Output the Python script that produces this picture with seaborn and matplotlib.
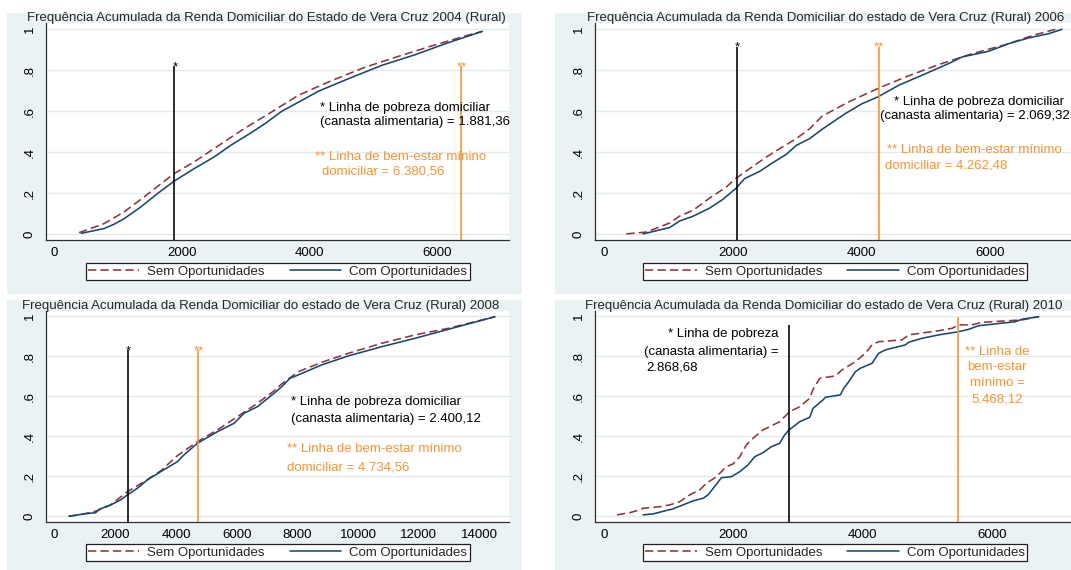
import matplotlib
matplotlib.use("Agg")
import matplotlib.pyplot as plt
from matplotlib.patches import Rectangle
from matplotlib.lines import Line2D
import pandas as pd
import seaborn as sns

# ---------------------------------------------------------------- data
anos = [2004, 2006, 2008, 2010]
titulos = [
    "Frequência Acumulada da Renda Domiciliar do Estado de Vera Cruz 2004 (Rural)",
    "Frequência Acumulada da Renda Domiciliar do estado de Vera Cruz (Rural) 2006",
    "Frequência Acumulada da Renda Domiciliar do estado de Vera Cruz (Rural) 2008",
    "Frequência Acumulada da Renda Domiciliar do estado de Vera Cruz (Rural) 2010",
]
grupos = ["Sem Oportunidades", "Com Oportunidades"]

renda_sem_2004 = [385, 777, 1091, 1405, 1876, 2190, 2504, 2975, 3305, 3828, 4351,
                  4875, 5398, 5921, 6444, 6716]
freq_sem_2004 = [0.008, 0.052, 0.109, 0.182, 0.296, 0.353, 0.418, 0.515, 0.577, 0.678,
                 0.750, 0.815, 0.868, 0.919, 0.967, 0.990]
renda_com_2004 = [421, 777, 934, 1091, 1353, 1614, 1876, 2190, 2504, 2766, 3080, 3305,
                  3566, 3933, 4142, 4613, 5136, 5659, 6183, 6716]
freq_com_2004 = [0.005, 0.028, 0.049, 0.076, 0.133, 0.198, 0.259, 0.320, 0.377, 0.434,
                 0.494, 0.540, 0.600, 0.662, 0.698, 0.759, 0.824, 0.876, 0.935, 0.990]

renda_sem_2006 = [347, 657, 1020, 1175, 1382, 1641, 1900, 2045, 2210, 2521, 2728, 2987,
                  3194, 3385, 3799, 4250, 4679, 5197, 5714, 6232, 6698, 7008]
freq_sem_2006 = [0.002, 0.011, 0.055, 0.089, 0.117, 0.177, 0.231, 0.272, 0.309, 0.377,
                 0.418, 0.467, 0.515, 0.576, 0.646, 0.711, 0.767, 0.828, 0.881, 0.925,
                 0.974, 1.0]
renda_com_2006 = [606, 1020, 1175, 1382, 1641, 1848, 2045, 2184, 2417, 2624, 2831, 2987,
                  3194, 3385, 3747, 4006, 4250, 4576, 4938, 5352, 5559, 5973, 6284,
                  6594, 6905, 7112]
freq_com_2006 = [0.002, 0.033, 0.065, 0.088, 0.128, 0.171, 0.223, 0.272, 0.307, 0.350,
                 0.390, 0.434, 0.467, 0.512, 0.589, 0.637, 0.670, 0.727, 0.776, 0.833,
                 0.865, 0.893, 0.930, 0.958, 0.979, 1.0]

renda_sem_2008 = [472, 967, 1406, 1845, 2394, 2943, 3493, 4042, 4701, 5360, 6019, 6678,
                  7227, 7480, 8029, 8798, 9677, 10775, 11873, 12971, 14509]
freq_sem_2008 = [0.0, 0.012, 0.028, 0.057, 0.123, 0.173, 0.227, 0.303, 0.373, 0.432,
                 0.498, 0.565, 0.627, 0.662, 0.723, 0.770, 0.815, 0.865, 0.907, 0.940,
                 0.998]
renda_com_2008 = [472, 967, 1351, 1461, 1845, 2175, 2394, 2724, 3054, 3493, 4042, 4261,
                  4701, 5360, 5909, 6239, 6678, 7227, 7480, 7754, 8029, 8798, 9677,
                  10775, 11873, 12971, 14509]
freq_com_2008 = [0.0, 0.012, 0.018, 0.035, 0.057, 0.082, 0.107, 0.140, 0.182, 0.223,
                 0.273, 0.307, 0.365, 0.423, 0.465, 0.515, 0.548, 0.615, 0.648, 0.690,
                 0.707, 0.757, 0.802, 0.848, 0.890, 0.935, 0.998]

renda_sem_2010 = [204, 400, 554, 606, 864, 1018, 1172, 1327, 1482, 1585, 1740, 1894,
                  1997, 2101, 2203, 2306, 2460, 2564, 2718, 2872, 3028, 3182, 3234,
                  3337, 3578, 3681, 3888, 4042, 4145, 4248, 4609, 4712, 5176, 5382,
                  5485, 5691, 5845, 6463, 6721]
freq_sem_2010 = [0.007, 0.018, 0.032, 0.040, 0.048, 0.057, 0.073, 0.107, 0.132, 0.165,
                 0.198, 0.248, 0.262, 0.298, 0.357, 0.390, 0.432, 0.448, 0.473, 0.523,
                 0.548, 0.590, 0.635, 0.690, 0.702, 0.732, 0.773, 0.815, 0.857, 0.873,
                 0.882, 0.907, 0.928, 0.940, 0.957, 0.957, 0.970, 0.982, 0.998]
renda_com_2010 = [606, 761, 941, 1069, 1224, 1379, 1534, 1610, 1740, 1817, 1971, 2101,
                  2229, 2332, 2460, 2589, 2718, 2795, 2862, 3028, 3182, 3234, 3388,
                  3424, 3656, 3708, 3785, 3888, 3965, 4145, 4248, 4351, 4660, 4712,
                  4918, 5176, 5485, 5640, 5794, 6361, 6463, 6721]
freq_com_2010 = [0.007, 0.012, 0.027, 0.037, 0.057, 0.077, 0.090, 0.107, 0.160, 0.193,
                 0.198, 0.223, 0.257, 0.298, 0.318, 0.348, 0.365, 0.407, 0.432, 0.473,
                 0.495, 0.540, 0.582, 0.595, 0.607, 0.640, 0.673, 0.723, 0.740, 0.765,
                 0.815, 0.832, 0.857, 0.870, 0.890, 0.907, 0.923, 0.935, 0.953, 0.973,
                 0.985, 0.998]

linha_pobreza = [1881.36, 2069.32, 2400.12, 2868.68]
linha_bem_estar = [6380.56, 4262.48, 4734.56, 5468.12]

x_ticks = [[0, 2000, 4000, 6000], [0, 2000, 4000, 6000],
           list(range(0, 14001, 2000)), [0, 2000, 4000, 6000]]
y_ticks = [0, 0.2, 0.4, 0.6, 0.8, 1.0]
y_tick_labels = ["0", ".2", ".4", ".6", ".8", "1"]

curvas = {
    2004: (renda_sem_2004, freq_sem_2004, renda_com_2004, freq_com_2004),
    2006: (renda_sem_2006, freq_sem_2006, renda_com_2006, freq_com_2006),
    2008: (renda_sem_2008, freq_sem_2008, renda_com_2008, freq_com_2008),
    2010: (renda_sem_2010, freq_sem_2010, renda_com_2010, freq_com_2010),
}


def br(v):
    s = f"{v:,.2f}"
    return s.replace(",", "X").replace(".", ",").replace("X", ".")


# ---------------------------------------------------------------- style
sns.set_style("white")
plt.rcParams["font.family"] = ["Liberation Sans", "DejaVu Sans"]
FS = 9.5
BG = "#eaf2f3"
GRID = "#e2ebed"
RED = "#90353b"
BLUE = "#1a476f"
ORANGE = "#f79433"
AXC = "#303030"

W, H = 1071, 570
fig = plt.figure(figsize=(W / 100, H / 100), dpi=100)
fig.patch.set_facecolor("white")


def fx(x):
    return x / W


def fy(y):
    return 1 - y / H


# graph regions (pixel boxes: left, top, right, bottom)
regioes = [(7, 13, 522, 294), (555, 13, 1080, 294), (7, 300, 522, 575), (555, 300, 1080, 575)]
for l, t, r, b in regioes:
    fig.add_artist(Rectangle((fx(l), fy(b)), (r - l) / W, (b - t) / H,
                             transform=fig.transFigure, facecolor=BG,
                             edgecolor="none", zorder=-5))

caixas = [(45.7, 23.3, 509, 240), (594.7, 23.3, 1076, 240),
          (45.7, 310.5, 509, 522), (594.7, 310.5, 1076, 522)]
xlims = [(-138, 7135), (-144, 7329), (-296, 14970), (-141, 7298)]
ylims = [(-0.0277, 1.0294), (-0.0277, 1.0294), (-0.0285, 1.029), (-0.0285, 1.029)]
titulo_pos = [(266, 18.5), (826, 18.5), (261, 305.5), (824, 305.5)]
legenda_pos = [(277.6, 271.5), (835, 271.5), (277.6, 552.5), (835, 552.5)]
topo_linhas = [(0.82, 0.82), (0.915, 0.915), (0.83, 0.83), (0.957, 0.998)]
com_estrela = [True, True, True, False]

textos = [
    [("* Linha de pobreza domiciliar", 320, 107.7, "k", "left"),
     (f"(canasta alimentaria) = {br(linha_pobreza[0])}", 320, 122, "k", "left"),
     ("** Linha de bem-estar mínino", 315, 157, ORANGE, "left"),
     (f"domiciliar = {br(linha_bem_estar[0])}", 321.7, 171, ORANGE, "left")],
    [("* Linha de pobreza domiciliar", 893.7, 102, "k", "left"),
     (f"(canasta alimentaria) = {br(linha_pobreza[1])}", 880.5, 116.3, "k", "left"),
     ("** Linha de bem-estar mínimo", 887, 150.3, ORANGE, "left"),
     (f"domiciliar = {br(linha_bem_estar[1])}", 884.7, 165.3, ORANGE, "left")],
    [("* Linha de pobreza domiciliar", 291, 401.7, "k", "left"),
     (f"(canasta alimentaria) = {br(linha_pobreza[2])}", 291, 419.3, "k", "left"),
     ("** Linha de bem-estar mínimo", 286.7, 449.3, ORANGE, "left"),
     (f"domiciliar = {br(linha_bem_estar[2])}", 286.7, 467.3, ORANGE, "left")],
    [("* Linha de pobreza", 779, 334, "k", "right"),
     ("(canasta alimentaria) =", 779, 351.7, "k", "right"),
     (br(linha_pobreza[3]), 646, 367.3, "k", "left"),
     ("** Linha de", 997, 352.3, ORANGE, "center"),
     ("bem-estar", 997, 366.7, ORANGE, "center"),
     ("mínimo =", 997, 382.7, ORANGE, "center"),
     (f"{br(linha_bem_estar[3])}", 997, 399.3, ORANGE, "center")],
]

for i, ano in enumerate(anos):
    l, t, r, b = caixas[i]
    ax = fig.add_axes([fx(l), fy(b), (r - l) / W, (b - t) / H])
    ax.set_facecolor("white")

    rs, fs, rc, fc = curvas[ano]
    df = pd.concat([
        pd.DataFrame({"renda": rs, "freq": fs, "grupo": grupos[0]}),
        pd.DataFrame({"renda": rc, "freq": fc, "grupo": grupos[1]}),
    ], ignore_index=True)
    sns.lineplot(data=df, x="renda", y="freq", hue="grupo", style="grupo",
                 palette={grupos[0]: RED, grupos[1]: BLUE},
                 dashes={grupos[0]: (5.2, 2.6), grupos[1]: ""},
                 estimator=None, sort=False, linewidth=1.15, legend=False, ax=ax,
                 zorder=2)

    ax.set_xlim(*xlims[i])
    ax.set_ylim(*ylims[i])
    y0 = ylims[i][0]

    # reference income lines
    tp, tb = topo_linhas[i]
    ax.vlines(linha_pobreza[i], y0, tp, color="black", lw=1.15, zorder=3)
    ax.vlines(linha_bem_estar[i], y0, tb, color=ORANGE, lw=1.2, zorder=3)
    if com_estrela[i]:
        ax.annotate("*", (linha_pobreza[i], tp), xytext=(0.5, -4),
                    textcoords="offset pixels", ha="center", va="baseline",
                    fontsize=FS, color="black")
        ax.annotate("**", (linha_bem_estar[i], tb), xytext=(0.5, -4),
                    textcoords="offset pixels", ha="center", va="baseline",
                    fontsize=FS, color=ORANGE)

    # axes styling
    ax.set_xticks(x_ticks[i])
    ax.set_xticklabels([str(v) for v in x_ticks[i]])
    ax.set_yticks(y_ticks)
    ax.set_yticklabels(y_tick_labels, rotation=90, va="center")
    ax.set_xlabel("")
    ax.set_ylabel("")
    ax.yaxis.grid(True, color=GRID, lw=1.0)
    ax.xaxis.grid(False)
    ax.set_axisbelow(True)
    for s in ["top", "right"]:
        ax.spines[s].set_visible(False)
    for s in ["left", "bottom"]:
        ax.spines[s].set_color(AXC)
        ax.spines[s].set_linewidth(0.9)
    ax.tick_params(axis="both", direction="out", length=4, width=0.8,
                   color=AXC, labelsize=FS, labelcolor="black")
    ax.tick_params(axis="y", pad=3.0)
    ax.tick_params(axis="x", pad=0.8)

    # title
    cx, cy = titulo_pos[i]
    fig.text(fx(cx), fy(cy), titulos[i], ha="center", va="center", fontsize=FS)

    # annotations
    for txt, x, y, c, ha in textos[i]:
        fig.text(fx(x), fy(y), txt, ha=ha, va="center", fontsize=FS, color=c)

    # legend
    handles = [Line2D([], [], color=RED, lw=1.15, dashes=(5.2, 2.6)),
               Line2D([], [], color=BLUE, lw=1.15)]
    lx, ly = legenda_pos[i]
    leg = ax.legend(handles, grupos, ncol=2, loc="center",
                    bbox_to_anchor=(fx(lx), fy(ly)), bbox_transform=fig.transFigure,
                    frameon=True, fancybox=False, framealpha=1, edgecolor="#202020",
                    borderpad=0.18, handlelength=3.9, handletextpad=0.6,
                    columnspacing=1.9, fontsize=FS, borderaxespad=0)
    leg.get_frame().set_linewidth(0.9)

fig.savefig("out.png", dpi=100, facecolor="white")
